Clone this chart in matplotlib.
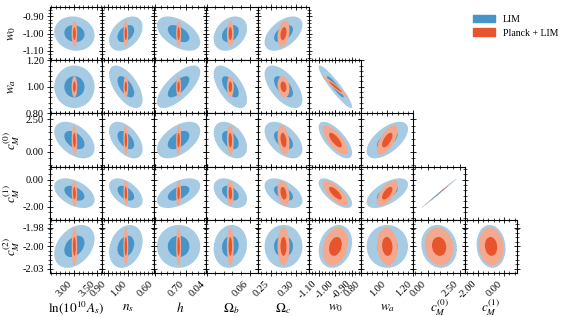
import numpy as np
import matplotlib
matplotlib.use('Agg')
import matplotlib.pyplot as plt
from matplotlib.patches import Ellipse, Patch
from matplotlib.ticker import AutoMinorLocator

plt.rcParams['font.family'] = ['Liberation Serif', 'DejaVu Serif']
plt.rcParams['mathtext.fontset'] = 'stix'

# parameters (columns use the first 9, rows use w0 .. cM2)
labels = [r'$\ln(10^{10}A_s)$', r'$n_s$', r'$h$', r'$\Omega_b$', r'$\Omega_c$',
          r'$w_0$', r'$w_a$', r'$c_M^{(0)}$', r'$c_M^{(1)}$', r'$c_M^{(2)}$']
fiducial = [3.01, 0.99, 0.677, 0.051, 0.275, -1.0, 1.0, 0.9, -1.0, -2.0]
sigma_lim = [0.22, 0.042, 0.035, 0.0039, 0.019, 0.05, 0.08, 0.7, 0.55, 0.0125]
sigma_pl = [0.03, 0.006, 0.004, 0.0008, 0.006, 0.038, 0.04, 0.56, 0.47, 0.011]
limits = [(2.478, 3.609), (0.87, 1.13), (0.5968, 0.7645), (0.0395, 0.0637),
          (0.223, 0.327), (-1.155, -0.845), (0.8, 1.2), (-1.13, 2.94),
          (-2.97, 0.97), (-2.031, -1.969)]
ticks = [[3.0, 3.5], [0.9, 1.0], [0.6, 0.7], [0.04, 0.06], [0.25, 0.30],
         [-1.1, -1.0, -0.9], [0.8, 1.0, 1.2], [0.0, 2.5], [-2.0, 0.0],
         [-2.026, -2.0, -1.978]]
tick_labels = [['3.00', '3.50'], ['0.90', '1.00'], ['0.60', '0.70'], ['0.04', '0.06'],
               ['0.25', '0.30'], ['-1.10', '-1.00', '-0.90'], ['0.80', '1.00', '1.20'],
               ['0.00', '2.50'], ['-2.00', '0.00'], ['-2.03', '-2.00', '-1.98']]

# correlation coefficients, one list per row (w0, wa, cM0, cM1, cM2)
rho_lim = [
    [-0.1, 0.4, -0.5, 0.3, 0.5],
    [0.0, -0.6, 0.7, -0.6, -0.6, -0.93],
    [-0.45, -0.5, 0.5, -0.4, -0.5, -0.7, 0.6],
    [-0.45, -0.5, 0.5, -0.4, -0.5, -0.7, 0.6, 0.998],
    [0.35, 0.25, 0.0, 0.1, 0.0, 0.2, 0.0, -0.1, -0.1],
]
rho_pl = [
    [0.0, 0.0, 0.0, 0.0, 0.3],
    [0.0, 0.0, 0.0, 0.0, -0.2, -0.97],
    [-0.1, -0.1, 0.1, -0.1, -0.3, -0.75, 0.65],
    [-0.1, -0.1, 0.1, -0.1, -0.3, -0.75, 0.65, 0.9997],
    [0.0, 0.0, 0.0, 0.0, 0.0, 0.25, -0.1, -0.1, -0.1],
]

levels = [2.0, 1.0]  # outer, inner
lim_colors = ['#a8cbe4', '#4795c8']
pl_colors = ['#f4a88d', '#e6552d']

fig = plt.figure(figsize=(5.81, 3.17), dpi=100)
gs = fig.add_gridspec(5, 9, left=50/581, right=517/581, top=1-7/317,
                      bottom=1-273/317, wspace=0, hspace=0)

for r in range(5):
    py = 5 + r
    for c in range(5 + r):
        ax = fig.add_subplot(gs[r, c])
        # draw contours, LIM first then Planck + LIM on top
        for sig, rho_rows, cols in ((sigma_lim, rho_lim, lim_colors), (sigma_pl, rho_pl, pl_colors)):
            rho = rho_rows[r][c]
            cov = np.array([[sig[c]**2, rho*sig[c]*sig[py]],
                            [rho*sig[c]*sig[py], sig[py]**2]])
            vals, vecs = np.linalg.eigh(cov)
            angle = np.degrees(np.arctan2(vecs[1, 1], vecs[0, 1]))
            for k, col in zip(levels, cols):
                ax.add_patch(Ellipse((fiducial[c], fiducial[py]),
                                     2*k*np.sqrt(vals[1]), 2*k*np.sqrt(vals[0]),
                                     angle=angle, color=col, lw=0))
        ax.set_xlim(limits[c])
        ax.set_ylim(limits[py])
        ax.set_xticks(ticks[c])
        ax.set_yticks(ticks[py])
        ax.xaxis.set_minor_locator(AutoMinorLocator(5))
        ax.yaxis.set_minor_locator(AutoMinorLocator(5))
        ax.tick_params(which='both', direction='inout', top=True, right=True, labelsize=7.5)
        ax.tick_params(which='major', length=5, width=0.6, pad=2)
        ax.tick_params(which='minor', length=2.5, width=0.5)
        for s in ax.spines.values():
            s.set_linewidth(0.8)

        if c == 0:
            ax.set_yticklabels(tick_labels[py])
            ax.set_ylabel(labels[py], fontsize=9.5, va='center')
            ax.yaxis.set_label_coords(-0.73, 0.5)
        else:
            ax.tick_params(labelleft=False)
        if r == 4:
            ax.set_xticklabels(tick_labels[c], rotation=45, ha='right')
            ax.set_xlabel(labels[c], fontsize=9.5, va='center')
            ax.xaxis.set_label_coords(0.5, -0.66)
        else:
            ax.tick_params(labelbottom=False)

# legend
handles = [Patch(color=lim_colors[1], label='LIM'),
           Patch(color=pl_colors[1], label='Planck + LIM')]
fig.legend(handles=handles, loc='upper left', bbox_to_anchor=(473/581, 1-15/317),
           frameon=False, fontsize=7, handlelength=2.3, handleheight=0.8,
           handletextpad=0.8, borderpad=0, borderaxespad=0, labelspacing=0.45)

plt.savefig('out.png', dpi=100)
